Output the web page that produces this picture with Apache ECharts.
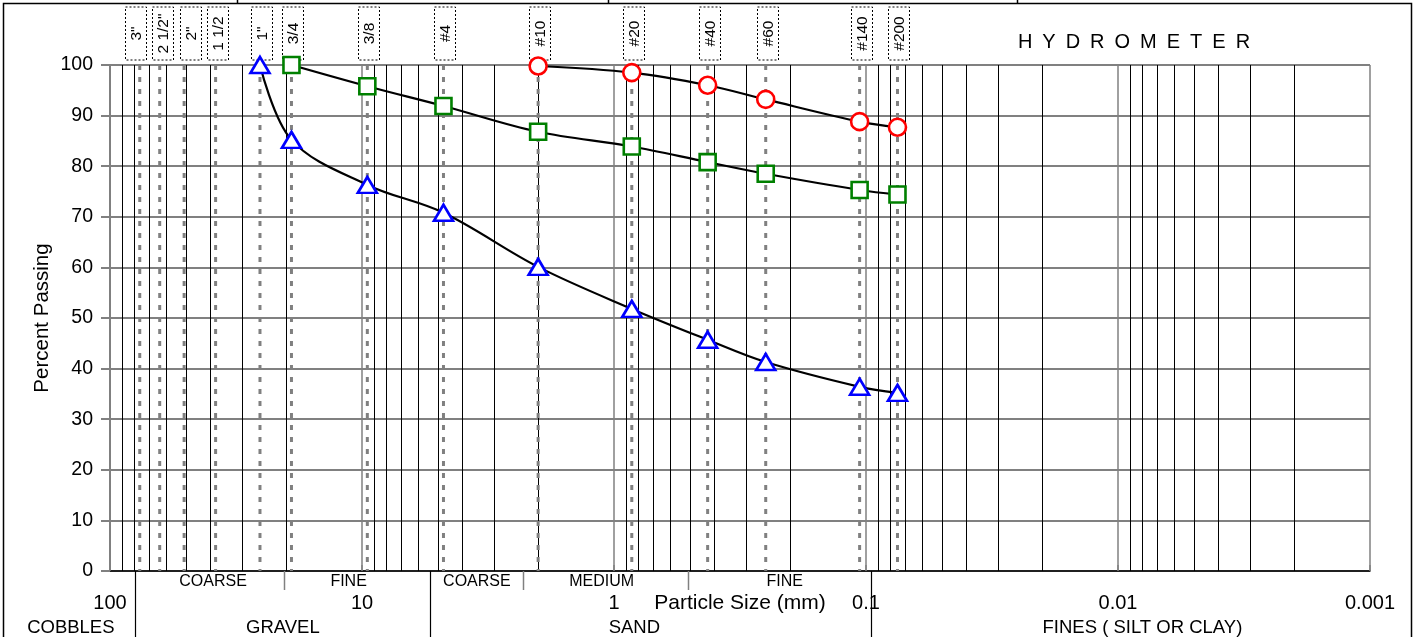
<!DOCTYPE html>
<html><head><meta charset="utf-8">
<script src="https://cdn.jsdelivr.net/npm/echarts@6/dist/echarts.min.js"></script>
<style>html,body{margin:0;padding:0;background:#fff;}#c{width:1418px;height:637px;}</style>
</head><body><div id="c"></div>
<script>
// ---------- data ----------
const sieveNames = ['3"','2 1/2"','2"','1 1/2','1"','3/4','3/8','#4','#10','#20','#40','#60','#140','#200'];
const sieveSizes = [76.2,63.5,50.8,38.1,25.4,19.05,9.525,4.75,2.0,0.85,0.425,0.25,0.106,0.075];

const triSizes   = [25.4,19.05,9.525,4.75,2.0,0.85,0.425,0.25,0.106,0.075];
const triPassing = [100,85.2,76.3,70.8,60.1,51.8,45.7,41.3,36.4,35.2];
const sqSizes    = [19.05,9.525,4.75,2.0,0.85,0.425,0.25,0.106,0.075];
const sqPassing  = [100,95.8,91.9,86.8,83.9,80.8,78.5,75.3,74.4];
const ciSizes    = [2.0,0.85,0.425,0.25,0.106,0.075];
const ciPassing  = [99.8,98.5,96.0,93.2,88.8,87.7];

const minorGrid = [90,80,70,60,50,40,30,20, 9,8,7,6,5,4,3,2, 0.9,0.8,0.7,0.6,0.5,0.4,0.3,0.2,
                   0.09,0.08,0.07,0.06,0.05,0.04,0.03,0.02, 0.009,0.008,0.007,0.006,0.005,0.004,0.003,0.002];

const zoneTopNames = ['COARSE','FINE','COARSE','MEDIUM','FINE'];
const zoneTopAt    = [39, 11.3, 3.5, 1.12, 0.21];
const zoneBotNames = ['COBBLES','GRAVEL','SAND','FINES ( SILT OR CLAY)'];
const zoneBotAt    = [143, 20.6, 0.83, 0.008];
const majorBounds  = [79.6, 5.37, 0.0956];
const minorBounds  = [20.4, 2.29, 0.51];

// ---------- chart ----------
const FONT = "'Liberation Sans', Arial, sans-serif";
const chart = echarts.init(document.getElementById('c'), null, {renderer:'canvas'});

function fmt(v){ return String(Number(Number(v).toPrecision(6))); }
function crisp(x){ return Math.round(x) + 0.5; }

// sieve label boxes: spread apart so boxes do not overlap (cluster relaxation)
let boxCenters = null;
function layoutBoxes(xs){
  const MIN = 27.5, OFF = 2;
  let clusters = xs.map(x => ({start:x+OFF, n:1, sum:x+OFF}));
  let merged = true;
  while (merged){
    merged = false;
    for (let i = 1; i < clusters.length; i++){
      const a = clusters[i-1], b = clusters[i];
      if (b.start < a.start + a.n*MIN){
        const n = a.n + b.n, sum = a.sum + b.sum;
        const mean = sum / n;
        clusters.splice(i-1, 2, {n:n, sum:sum, start: mean - (n-1)*MIN/2});
        merged = true; break;
      }
    }
  }
  const out = [];
  clusters.forEach(c => { for (let k = 0; k < c.n; k++) out.push(c.start + k*MIN); });
  return out;
}

const option = {
  animation:false,
  backgroundColor:'#fff',
  grid:{left:110, right:48, top:65, bottom:66, containLabel:false},
  xAxis:[{
    type:'log', logBase:10, min:0.001, max:100, inverse:true, splitNumber:5,
    position:'bottom',
    name:'Particle Size (mm)', nameLocation:'middle', nameGap:22, nameMoveOverlap:false,
    nameTextStyle:{fontSize:21, fontFamily:FONT, color:'#000', verticalAlign:'top'},
    axisLine:{show:true, onZero:false, lineStyle:{color:'#000', width:1.5}},
    axisTick:{show:false},
    axisLabel:{show:true, margin:22.5, fontSize:20, fontFamily:FONT, color:'#000', formatter:fmt, verticalAlign:'top'},
    splitLine:{show:true, lineStyle:{color:'#808080', width:1.5}},
    minorTick:{show:false}, minorSplitLine:{show:false}
  },{
    type:'log', logBase:10, min:0.001, max:100, inverse:true, splitNumber:5,
    position:'top',
    axisLine:{show:false},
    axisTick:{show:true, length:6, lineStyle:{color:'#808080', width:1.5}},
    axisLabel:{show:false},
    splitLine:{show:false}
  }],
  yAxis:{
    type:'value', min:0, max:100, interval:10,
    name:'Percent Passing', nameLocation:'middle', nameGap:57, nameRotate:90, nameMoveOverlap:false,
    nameTextStyle:{fontSize:20.5, fontFamily:FONT, color:'#000'},
    axisLine:{show:true, lineStyle:{color:'#808080', width:2}},
    axisTick:{show:true, length:9, lineStyle:{color:'#808080', width:2}},
    axisLabel:{margin:17, fontSize:19.5, fontFamily:FONT, color:'#000'},
    splitLine:{show:true, lineStyle:{color:'#808080', width:2}}
  },
  series:[
    { // minor log grid lines
      type:'custom', silent:true, z:1, clip:false,
      data: minorGrid.map(v=>[v, 0]),
      renderItem(params, api){
        const p = api.coord([api.value(0),100]), q = api.coord([api.value(0),0]);
        const x = crisp(p[0]);
        return {type:'line', silent:true, shape:{x1:x, y1:p[1], x2:x, y2:q[1]}, style:{stroke:'#000', lineWidth:1}};
      }
    },
    { // sieve dashed lines and label boxes
      type:'custom', silent:true, z:2, clip:false,
      data: sieveSizes.map(v=>[v, 0]),
      renderItem(params, api){
        const p = api.coord([api.value(0),100]);
        const bot = api.coord([api.value(0),0])[1];
        if (params.dataIndex === 0 || !boxCenters){
          boxCenters = layoutBoxes(sieveSizes.map(s => api.coord([s,100])[0]));
        }
        const x = p[0], cx = Math.round(boxCenters[params.dataIndex]);
        return {type:'group', children:[
          {type:'line', shape:{x1:x, y1:p[1], x2:x, y2:bot}, style:{stroke:'#808080', lineWidth:3, lineDash:[5,7]}},
          {type:'rect', shape:{x:cx-10.5, y:p[1]-58, width:21, height:53}, style:{fill:'#fff', stroke:'#000', lineWidth:1, lineDash:[2,2]}},
          {type:'text', x:cx+1, y:p[1]-31.5, rotation:Math.PI/2,
            style:{text:sieveNames[params.dataIndex], fontSize:15.5, fontFamily:FONT, fill:'#000', align:'center', verticalAlign:'middle'}}
        ]};
      }
    },
    { // zone boundaries
      type:'custom', silent:true, z:2, clip:false,
      data: majorBounds.map(v=>[v,1]).concat(minorBounds.map(v=>[v,0])),
      renderItem(params, api){
        const p = api.coord([api.value(0),0]);
        const full = api.value(1) === 1;
        const x = crisp(p[0]);
        return {type:'line', silent:true, shape:{x1:x, y1:p[1], x2:x, y2: full ? p[1]+70 : p[1]+19},
          style:{stroke: full ? '#000' : '#808080', lineWidth: full ? 1.2 : 1.5}};
      }
    },
    { // zone labels, upper row
      type:'custom', silent:true, z:2, clip:false,
      data: zoneTopAt.map(v=>[v,0]),
      renderItem(params, api){
        const p = api.coord([api.value(0),0]);
        return {type:'text', x:p[0], y:p[1]+11, silent:true,
          style:{text:zoneTopNames[params.dataIndex], fontSize:16, fontFamily:FONT, fill:'#000', align:'center', verticalAlign:'middle'}};
      }
    },
    { // zone labels, lower row
      type:'custom', silent:true, z:2, clip:false,
      data: zoneBotAt.map(v=>[v,0]),
      renderItem(params, api){
        const p = api.coord([api.value(0),0]);
        return {type:'text', x:p[0], y:p[1]+57, silent:true,
          style:{text:zoneBotNames[params.dataIndex], fontSize:18.5, fontFamily:FONT, fill:'#000', align:'center', verticalAlign:'middle'}};
      }
    },
    {
      name:'A', type:'line', smooth:0.35, z:5,
      data: triSizes.map((s,i)=>[s, triPassing[i]]),
      lineStyle:{color:'#000', width:2.2},
      symbol:'triangle', symbolSize:[19,16], showAllSymbol:true,
      itemStyle:{color:'#fff', borderColor:'#0000ff', borderWidth:2.6}
    },
    {
      name:'B', type:'line', smooth:0.35, z:5,
      data: sqSizes.map((s,i)=>[s, sqPassing[i]]),
      lineStyle:{color:'#000', width:2.2},
      symbol:'rect', symbolSize:16, showAllSymbol:true,
      itemStyle:{color:'#fff', borderColor:'#008000', borderWidth:2.6}
    },
    {
      name:'C', type:'line', smooth:0.35, z:5,
      data: ciSizes.map((s,i)=>[s, ciPassing[i]]),
      lineStyle:{color:'#000', width:2.2},
      symbol:'circle', symbolSize:17, showAllSymbol:true,
      itemStyle:{color:'#fff', borderColor:'#ff0000', borderWidth:2.6}
    }
  ],
  graphic:[
    {type:'rect', shape:{x:3.5, y:3.5, width:1408, height:660}, style:{fill:null, stroke:'#000', lineWidth:1.5}, silent:true, z:0},
    {type:'line', shape:{x1:237.5, y1:0, x2:237.5, y2:3}, style:{stroke:'#000', lineWidth:1.5}, silent:true},
    {type:'line', shape:{x1:608.5, y1:0, x2:608.5, y2:3}, style:{stroke:'#000', lineWidth:1.5}, silent:true},
    {type:'line', shape:{x1:1017.5, y1:0, x2:1017.5, y2:3}, style:{stroke:'#000', lineWidth:1.5}, silent:true},
    {type:'text', x:1134, y:42, style:{text:'H\u2002Y\u2002D\u2002R\u2002O\u2002M\u2002E\u2002T\u2002E\u2002R', fontSize:20, fontFamily:FONT, fill:'#000', align:'center', verticalAlign:'middle'}, silent:true}
  ]
};
chart.setOption(option);
</script></body></html>
